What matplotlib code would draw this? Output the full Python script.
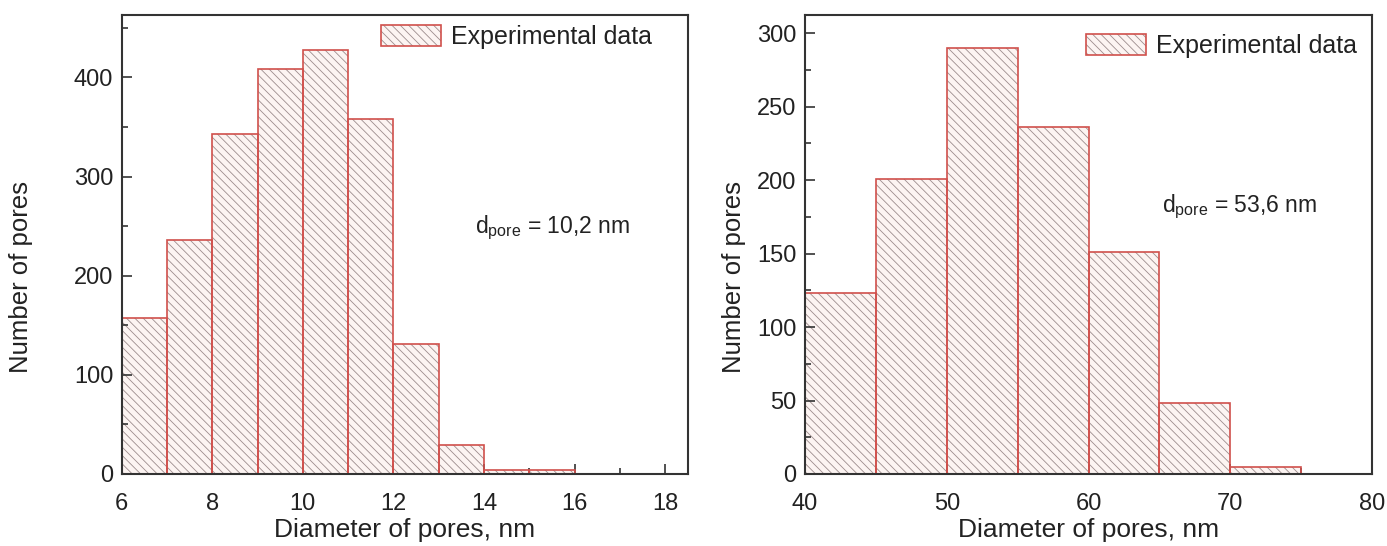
import matplotlib
matplotlib.use("Agg")
import matplotlib.pyplot as plt
from matplotlib.ticker import MultipleLocator
from matplotlib.patches import Patch
from matplotlib.legend_handler import HandlerTuple

plt.rcParams['font.family'] = ['Liberation Sans', 'DejaVu Sans']
plt.rcParams['hatch.linewidth'] = 0.6

# Left panel data
left_bin_edges = [6, 7, 8, 9, 10, 11, 12, 13, 14, 15, 16]
left_counts = [157, 236, 343, 408, 428, 358, 131, 29, 4, 4]
left_label = r"d$_{\mathregular{pore}}$ = 10,2 nm"

# Right panel data
right_bin_edges = [40, 45, 50, 55, 60, 65, 70, 75]
right_counts = [123, 201, 290, 236, 151, 48, 5]
right_label = r"d$_{\mathregular{pore}}$ = 53,6 nm"

legend_label = "Experimental data"
xlabel = "Diameter of pores, nm"
ylabel = "Number of pores"

edge_red = "#d0504c"
fill_col = "#fcf4f2"
hatch_col = "#9c8c8c"
text_col = "#222222"
spine_col = "#333333"
HATCH = '\\\\\\\\'

fig = plt.figure(figsize=(13.87, 5.46), dpi=100)
axL = fig.add_axes([0.0877, 0.1319, 0.4083, 0.8407])
axR = fig.add_axes([0.5804, 0.1319, 0.4088, 0.8407])


def draw(ax, edges, counts, xlim, ylim, xmaj, xmin, ymaj, ymin, ann, ann_xy, leg_xy, ylab_x):
    lefts = edges[:-1]
    widths = [edges[i + 1] - edges[i] for i in range(len(counts))]
    ax.bar(lefts, counts, width=widths, align='edge', color=fill_col,
           edgecolor=hatch_col, linewidth=0, hatch=HATCH, zorder=1)
    ax.bar(lefts, counts, width=widths, align='edge', fill=False,
           edgecolor=edge_red, linewidth=1.2, zorder=2)
    ax.set_xlim(*xlim)
    ax.set_ylim(*ylim)
    ax.xaxis.set_major_locator(MultipleLocator(xmaj))
    ax.xaxis.set_minor_locator(MultipleLocator(xmin))
    ax.yaxis.set_major_locator(MultipleLocator(ymaj))
    ax.yaxis.set_minor_locator(MultipleLocator(ymin))
    ax.tick_params(which='both', direction='in', top=False, right=False,
                   colors=spine_col, labelcolor=text_col, labelsize=17, width=1.2)
    ax.tick_params(which='major', length=7)
    ax.tick_params(axis='x', which='major', pad=14)
    ax.tick_params(axis='y', which='major', pad=6)
    ax.tick_params(which='minor', length=4)
    for s in ax.spines.values():
        s.set_color(spine_col)
        s.set_linewidth(1.5)
        s.set_zorder(3)
    ax.set_xlabel(xlabel, fontsize=19, color=text_col)
    ax.set_ylabel(ylabel, fontsize=18.5, color=text_col)
    ax.xaxis.set_label_coords(0.5, -0.095)
    ax.yaxis.set_label_coords(ylab_x, 0.43)
    ax.text(ann_xy[0], ann_xy[1], ann, fontsize=16.5, color=text_col, va='baseline', ha='left')
    h_fill = Patch(facecolor=fill_col, edgecolor=hatch_col, hatch=HATCH, linewidth=0)
    h_edge = Patch(fill=False, edgecolor=edge_red, linewidth=1.2)
    ax.legend([(h_fill, h_edge)], [legend_label], loc='center right', bbox_to_anchor=leg_xy,
              frameon=False, fontsize=18, borderpad=0, borderaxespad=0,
              handlelength=2.4, handleheight=0.9, handletextpad=0.4,
              labelcolor=text_col, handler_map={tuple: HandlerTuple(ndivide=1, pad=0)})


draw(axL, left_bin_edges, left_counts, (6, 18.5), (0, 463), 2, 1, 100, 50,
     left_label, (13.8, 243), (0.936, 0.952), -0.157)
draw(axR, right_bin_edges, right_counts, (40, 80), (0, 312.5), 10, 5, 50, 25,
     right_label, (65.2, 178), (0.974, 0.932), -0.104)

fig.savefig("out.png", dpi=100, facecolor='white')
